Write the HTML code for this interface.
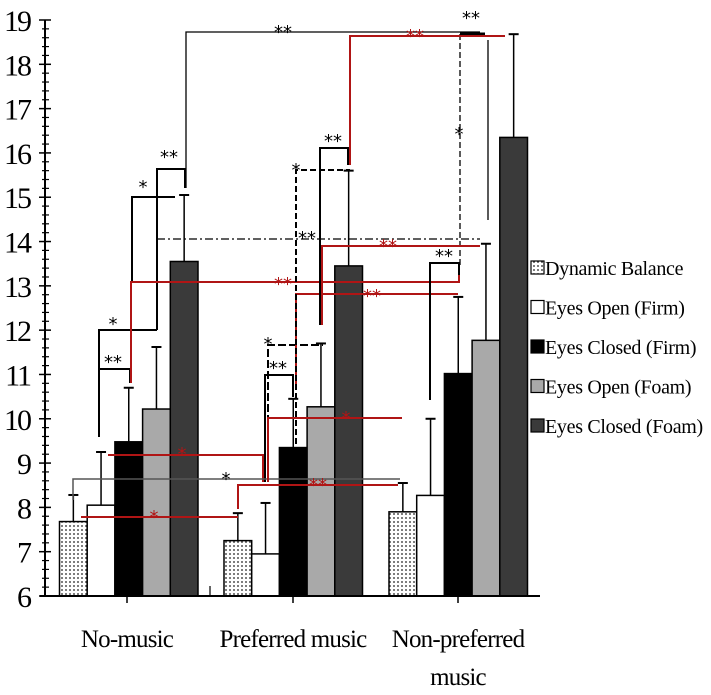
<!DOCTYPE html>
<html><head><meta charset="utf-8"><style>
html,body{margin:0;padding:0;background:#fff;}
svg{display:block;font-family:"Liberation Serif",serif;}
</style></head><body>
<svg id="chart" width="711" height="695" viewBox="0 0 711 695" xmlns="http://www.w3.org/2000/svg">
<defs>
<pattern id="dots" width="4" height="4" patternUnits="userSpaceOnUse"><rect width="4" height="4" fill="#fff"/><circle cx="2" cy="2" r="0.9" fill="#222"/></pattern>
</defs>
<g id="bars"></g>
<g id="annot"></g>
<g id="axis"></g>
<g id="legend"></g>
</svg>
<script>
const categories = ["No-music", "Preferred music", "Non-preferred music"];
const seriesNames = ["Dynamic Balance", "Eyes Open (Firm)", "Eyes Closed (Firm)", "Eyes Open (Foam)", "Eyes Closed (Foam)"];
const dynamicBalance = [7.68, 7.25, 7.9];
const eyesOpenFirm = [8.05, 6.95, 8.27];
const eyesClosedFirm = [9.48, 9.35, 11.02];
const eyesOpenFoam = [10.22, 10.27, 11.77];
const eyesClosedFoam = [13.55, 13.45, 16.35];
const errDynamic = [8.28, 7.87, 8.55];
const errOpenFirm = [9.25, 8.1, 10.0];
const errClosedFirm = [10.7, 10.45, 12.75];
const errOpenFoam = [11.62, 11.7, 13.95];
const errClosedFoam = [15.05, 15.6, 18.68];
const yTicks = [6,7,8,9,10,11,12,13,14,15,16,17,18,19];

const NS = "http://www.w3.org/2000/svg";
const y0 = 596, yTop = 20, vMin = 6, vMax = 19;
function yScale(v){ return y0 - (v - vMin) * (y0 - yTop) / (vMax - vMin); }
const groupStart = [59.5, 224, 389], barW = 27.7;
function xBar(g, s){ return groupStart[g] + s * barW; }
function mk(tag, attrs, parent){ const e = document.createElementNS(NS, tag); for (const k in attrs) e.setAttribute(k, attrs[k]); parent.appendChild(e); return e; }

const vals = [dynamicBalance, eyesOpenFirm, eyesClosedFirm, eyesOpenFoam, eyesClosedFoam];
const errs = [errDynamic, errOpenFirm, errClosedFirm, errOpenFoam, errClosedFoam];
const fills = ["url(#dots)", "#fff", "#000", "#a9a9a9", "#3a3a3a"];
const barsG = document.getElementById("bars");
for (let g = 0; g < categories.length; g++) {
  for (let s = 0; s < vals.length; s++) {
    const x = xBar(g, s), yv = yScale(vals[s][g]), ye = yScale(errs[s][g]), cx = x + barW/2;
    const eb = mk("line", {x1: cx, x2: cx, y1: ye, y2: yv, stroke: "#000", "stroke-width": 1.5}, barsG);
    
    
    const cap = mk("line", {x1: cx-5, x2: cx+5, y1: ye, y2: ye, stroke: "#000", "stroke-width": 2}, barsG);
    
    
    const r = mk("rect", {x: x, y: yv, width: barW, height: y0 - yv, fill: fills[s], stroke: "#000", "stroke-width": 1.5}, barsG);
    
    
  }
}

// axis
const ax = document.getElementById("axis");
mk("line", {x1: 45, x2: 45, y1: yTop, y2: y0, stroke: "#000", "stroke-width": 2}, ax);
mk("line", {x1: 40, x2: 540, y1: y0, y2: y0, stroke: "#000", "stroke-width": 2}, ax);
for (let i = 0; i < yTicks.length; i++) {
  const v = yTicks[i], y = yScale(v);
  mk("line", {x1: 39, x2: 51, y1: y, y2: y, stroke: "#000", "stroke-width": 1.5}, ax);
  if (i < yTicks.length - 1) for (let k = 1; k < 5; k++) { const yy = yScale(v + k*0.2); mk("line", {x1: 42, x2: 49, y1: yy, y2: yy, stroke: "#000", "stroke-width": 1.2}, ax); }
  const t = mk("text", {x: 30, y: y + 11, "font-size": 30, "text-anchor": "end", fill: "#000", "letter-spacing": "-2"}, ax);
  t.textContent = v;
  
  
}
const catX = [127, 293, 458];
const catLines = [["No-music"], ["Preferred music"], ["Non-preferred", "music"]];
for (let g = 0; g < categories.length; g++) {
  mk("line", {x1: catX[g], x2: catX[g], y1: y0, y2: y0 + 7, stroke: "#000", "stroke-width": 1.5}, ax);
  catLines[g].forEach((ln, j) => {
    const t = mk("text", {x: catX[g], y: 647 + j*38, "font-size": 25, "text-anchor": "middle", fill: "#000", "letter-spacing": "-0.8"}, ax);
    t.textContent = ln;
    
    
  });
}
mk("line", {x1: 210, x2: 210, y1: y0, y2: y0 - 10, stroke: "#000", "stroke-width": 1.2}, ax);

// legend
const lg = document.getElementById("legend");
seriesNames.forEach((n, i) => {
  const y = 268 + i * 39.5;
  const r = mk("rect", {x: 531, y: y - 7, width: 13, height: 13, fill: fills[i], stroke: "#000", "stroke-width": 1.2}, lg);
  
  
  const t = mk("text", {x: 545, y: y + 7, "font-size": 20, fill: "#000", "letter-spacing": "-0.3"}, lg);
  t.textContent = n;
  
  
});

// significance annotations (decorative pixel paths)
const an = document.getElementById("annot");
const K = "#000", R = "#b01515", G = "#555";
const paths = [
  [K, "M186 188 V32 H480", 1.3, ""], [K, "M460 34 H485", 3, ""], [K, "M460 34 V265", 1.3, "6 3"],
  [R, "M350 165 V36 H505", 2, ""],
  [K, "M132 282 V197 H175", 2, ""], [K, "M157 330 V169 H185 V188", 2, ""],
  [K, "M99 437 V330 H157", 2, ""], [K, "M99 383 V369 H130 V383", 2, ""],
  [R, "M131 383 V282 H459 V265", 2, ""],
  [K, "M157 239 H480", 1.3, "8 3 2 3"],
  [K, "M268 478 V345 H323", 2, "8 3"], [K, "M265 482 V375 H293 V397", 2, ""],
  [R, "M296 388 V294 H458", 2, ""], [R, "M322 325 V246 H480", 2, ""],
  [K, "M296 597 V170 H350", 2, "6 3"], [K, "M320 325 V148 H348 V165", 2, ""],
  [K, "M430 400 V263 H459 V275", 2, ""], [K, "M488 220 V40", 1.3, ""],
  [R, "M108 455 H263 V482", 2, ""], [G, "M73 500 V479 H400", 1.5, ""],
  [R, "M238 509 V485 H398", 2, ""], [R, "M81 517 H238", 2, ""],
  [R, "M268 482 V418 H402", 2, ""]
];
paths.forEach(p => {
  const e = mk("path", {d: p[1], stroke: p[0], "stroke-width": p[2], fill: "none", "stroke-dasharray": p[3]}, an);
  
  
});
const stars = [
  [K, 283, 38, "**"], [R, 415, 42, "**"], [K, 471, 24, "**"], [K, 459, 140, "*"],
  [K, 113, 330, "*"], [K, 113, 368, "**"], [K, 143, 193, "*"], [K, 169, 163, "**"],
  [R, 283, 290, "**"], [K, 307, 244, "**"], [K, 268, 350, "*"], [K, 278, 374, "**"],
  [R, 372, 302, "**"], [R, 388, 252, "**"], [K, 296, 176, "*"], [K, 333, 147, "**"],
  [K, 444, 262, "**"], [R, 182, 460, "*"], [K, 226, 485, "*"], [R, 318, 491, "**"],
  [R, 154, 523, "*"], [R, 346, 424, "*"]
];
stars.forEach(s => {
  const t = mk("text", {x: s[1], y: s[2], "font-size": 18, "text-anchor": "middle", fill: s[0], "font-family": "DejaVu Sans, sans-serif"}, an);
  t.textContent = s[3];
  
  
});
</script>
</body></html>
